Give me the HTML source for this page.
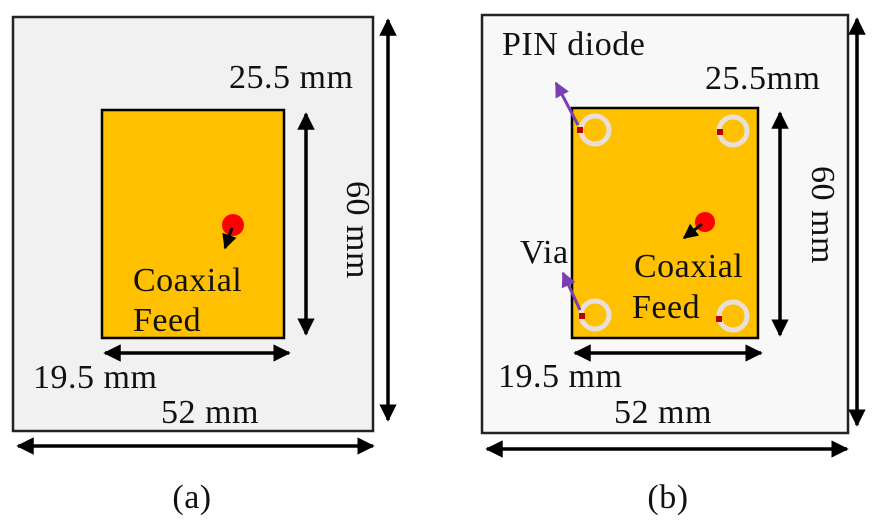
<!DOCTYPE html>
<html><head><style>
body{margin:0;background:#fff;}
svg text{font-family:"Liberation Serif",serif;fill:#111;letter-spacing:0.5px;}
</style></head><body>
<svg width="875" height="525" viewBox="0 0 875 525" xmlns="http://www.w3.org/2000/svg">
<defs>
<marker id="a" viewBox="0 0 10 10" refX="9" refY="5" markerWidth="5" markerHeight="5" orient="auto-start-reverse"><path d="M0,0L10,5L0,10z" fill="#000"/></marker>
<marker id="p" viewBox="0 0 10 10" refX="9" refY="5" markerWidth="5" markerHeight="5" orient="auto"><path d="M0,0L10,5L0,10z" fill="#7a3fb0"/></marker>
</defs>
<!-- Left -->
<rect x="13" y="17" width="360" height="414" fill="#f1f1f1" stroke="#222" stroke-width="2.5"/>
<rect x="102" y="110" width="182" height="228" fill="#ffc000" stroke="#000" stroke-width="2.5"/>
<circle cx="233" cy="225" r="11" fill="#f00"/>
<line x1="232" y1="228" x2="225" y2="248" stroke="#000" stroke-width="3" marker-end="url(#a)"/>
<line x1="306" y1="114" x2="306" y2="334" stroke="#000" stroke-width="3.5" marker-start="url(#a)" marker-end="url(#a)"/>
<line x1="105" y1="353" x2="289" y2="353" stroke="#000" stroke-width="3.5" marker-start="url(#a)" marker-end="url(#a)"/>
<line x1="18" y1="446" x2="373" y2="446" stroke="#000" stroke-width="3.5" marker-start="url(#a)" marker-end="url(#a)"/>
<line x1="388" y1="20" x2="388" y2="420" stroke="#000" stroke-width="3.5" marker-start="url(#a)" marker-end="url(#a)"/>
<text x="229" y="88" font-size="34">25.5 mm</text>
<text x="133" y="291" font-size="34">Coaxial</text>
<text x="133" y="331" font-size="34">Feed</text>
<text x="33" y="388" font-size="34">19.5 mm</text>
<text x="161" y="423" font-size="34">52 mm</text>
<text x="0" y="0" font-size="34" text-anchor="middle" transform="translate(347,230) rotate(90)">60 mm</text>
<text x="192" y="508" font-size="34" text-anchor="middle">(a)</text>
<!-- Right -->
<rect x="482" y="15" width="366" height="418" fill="#f8f8f8" stroke="#222" stroke-width="2.5"/>
<rect x="572" y="108" width="186" height="230" fill="#ffc000" stroke="#000" stroke-width="2.5"/>
<g fill="none" stroke="#e8e0d8" stroke-width="5">
<circle cx="595" cy="130" r="14"/><circle cx="733" cy="131" r="14"/>
<circle cx="595" cy="315" r="14"/><circle cx="733" cy="316" r="14"/>
</g>
<g fill="#b00">
<rect x="577" y="127" width="6" height="6"/><rect x="717" y="129" width="6" height="6"/>
<rect x="579" y="313" width="6" height="6"/><rect x="716" y="316" width="6" height="6"/>
</g>
<circle cx="705" cy="222" r="10" fill="#f00"/>
<line x1="702" y1="224" x2="684" y2="238" stroke="#000" stroke-width="3" marker-end="url(#a)"/>
<line x1="578" y1="125" x2="556" y2="83" stroke="#7a3fb0" stroke-width="3" marker-end="url(#p)"/>
<line x1="580" y1="310" x2="563" y2="273" stroke="#7a3fb0" stroke-width="3" marker-end="url(#p)"/>
<line x1="780" y1="113" x2="780" y2="335" stroke="#000" stroke-width="3.5" marker-start="url(#a)" marker-end="url(#a)"/>
<line x1="575" y1="353" x2="761" y2="353" stroke="#000" stroke-width="3.5" marker-start="url(#a)" marker-end="url(#a)"/>
<line x1="487" y1="449" x2="847" y2="449" stroke="#000" stroke-width="3.5" marker-start="url(#a)" marker-end="url(#a)"/>
<line x1="857" y1="19" x2="857" y2="425" stroke="#000" stroke-width="3.5" marker-start="url(#a)" marker-end="url(#a)"/>
<text x="502" y="55" font-size="34">PIN diode</text>
<text x="705" y="89" font-size="34">25.5mm</text>
<text x="520" y="263" font-size="34">Via</text>
<text x="634" y="277" font-size="34">Coaxial</text>
<text x="632" y="318" font-size="34">Feed</text>
<text x="498" y="387" font-size="34">19.5 mm</text>
<text x="614" y="423" font-size="34">52 mm</text>
<text x="0" y="0" font-size="34" text-anchor="middle" transform="translate(812,215) rotate(90)">60 mm</text>
<text x="668" y="508" font-size="34" text-anchor="middle">(b)</text>
</svg>
</body></html>
